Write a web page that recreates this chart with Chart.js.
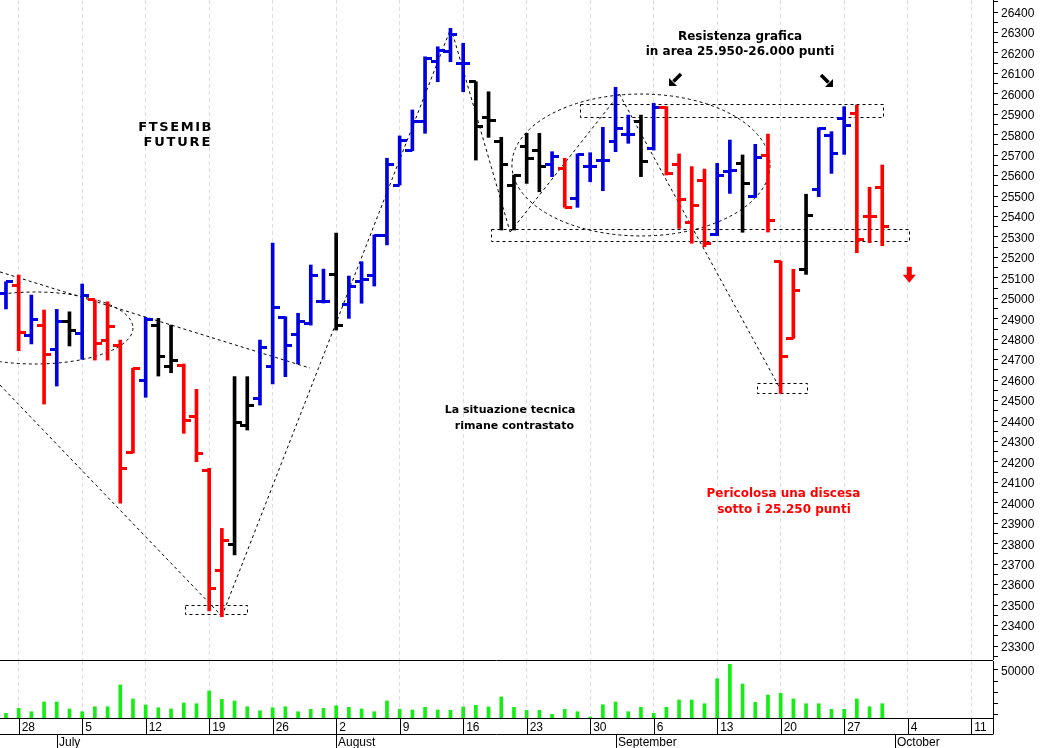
<!DOCTYPE html>
<html>
<head>
<meta charset="utf-8">
<title>FTSEMIB Future</title>
<script src="https://cdn.jsdelivr.net/npm/chart.js@4.4.1/dist/chart.umd.min.js"></script>
<style>
  html, body { margin: 0; padding: 0; background: #fff; }
  #wrap { position: relative; width: 1040px; height: 748px; overflow: hidden; }
  #wrap canvas { position: absolute; left: 0; }
  #price { top: 0; }
  #volume { top: 660px; }
</style>
</head>
<body>
<div id="wrap">
  <canvas id="price" width="1040" height="660"></canvas>
  <canvas id="volume" width="1040" height="88"></canvas>
</div>
<script>
// one bar per trading session, 25 Jun 2021 -> 30 Sep 2021 (x value = session index)
const OPEN = [
  25026, 25065, 24816, 24869, 24751, 24889, 24829, 24992, 24796, 24767,
  24248, 24600, 24869, 24669, 24674, 24421, 24160, 23668, 23794, 24376,
  24511, 24666, 24907, 24821, 24878, 24983, 25117, 24972, 25081, 25114,
  25305, 25554, 25725, 25864, 26157, 26206, 26146, 26059, 25885, 25766,
  25554, 25741, 25722, 25652, 25636, 25489, 25644, 25673, 25766, 25799,
  25864, 25733, 25932, 25652, 25372, 25578, 25310, 25619, 25657, 25497,
  25696, 25182, 24804, 25142, 25533, 25794, 25877, 25905, 25399, 25541,
];
const HIGH = [
  25081, 25114, 25016, 24943, 24946, 24934, 25070, 24992, 24983, 24796,
  24658, 24907, 24902, 24869, 24679, 24555, 24169, 23875, 24617, 24617,
  24796, 25270, 24910, 24927, 25163, 25143, 25319, 25109, 25179, 25310,
  25685, 25794, 25921, 26181, 26230, 26320, 26247, 26059, 26010, 25787,
  25603, 25807, 25807, 25717, 25685, 25706, 25712, 25836, 26032, 25896,
  25896, 25954, 25937, 25706, 25644, 25632, 25660, 25774, 25701, 25753,
  25803, 25182, 25142, 25509, 25834, 25815, 25937, 25945, 25543, 25652,
];
const LOW = [
  24948, 24744, 24777, 24483, 24571, 24767, 24702, 24698, 24698, 23999,
  24244, 24516, 24620, 24636, 24340, 24201, 23472, 23443, 23745, 24356,
  24478, 24581, 24617, 24679, 24869, 24977, 24845, 24902, 24976, 25060,
  25261, 25554, 25722, 25807, 26059, 26157, 26010, 25676, 25787, 25334,
  25334, 25562, 25521, 25595, 25445, 25445, 25570, 25526, 25717, 25758,
  25595, 25725, 25603, 25342, 25269, 25252, 25306, 25513, 25323, 25494,
  25324, 24535, 24804, 25117, 25497, 25611, 25704, 25223, 25272, 25257,
];
const CLOSE = [
  25081, 24832, 24897, 24726, 24886, 24845, 25016, 24780, 24861, 24170,
  24658, 24897, 24718, 24698, 24401, 24239, 23582, 23818, 24395, 24478,
  24760, 24956, 24767, 24886, 25114, 24983, 24869, 25060, 25093, 25305,
  25652, 25774, 25864, 26174, 26214, 26288, 26146, 25839, 25868, 25652,
  25600, 25685, 25647, 25692, 25445, 25701, 25644, 25673, 25831, 25799,
  25671, 25932, 25608, 25481, 25456, 25269, 25603, 25627, 25562, 25689,
  25381, 24718, 25037, 25407, 25831, 25709, 25847, 25289, 25399, 25350,
];
// bar colour code of the original: u = blue, d = red, n = black
const SIGNAL = [
  'u', 'd', 'u', 'd', 'u', 'n', 'u', 'd', 'd', 'd',
  'd', 'u', 'n', 'n', 'd', 'd', 'd', 'd', 'n', 'n',
  'u', 'u', 'u', 'u', 'u', 'u', 'n', 'u', 'u', 'u',
  'u', 'u', 'u', 'u', 'u', 'u', 'u', 'n', 'n', 'n',
  'n', 'n', 'n', 'u', 'd', 'u', 'u', 'u', 'u', 'u',
  'n', 'u', 'd', 'd', 'd', 'd', 'u', 'u', 'n', 'u',
  'd', 'd', 'd', 'n', 'u', 'u', 'u', 'd', 'd', 'd',
];
const VOLUME = [
  11000, 15500, 12400, 21200, 21200, 14900, 12400, 16900, 16900, 36500,
  23900, 18500, 16000, 14900, 20300, 19600, 31100, 23600, 22100, 16900,
  13300, 16000, 16900, 12400, 14600, 15500, 17800, 16400, 14900, 12400,
  22100, 14600, 14000, 16400, 14000, 13700, 16700, 18200, 16700, 25700,
  16400, 13700, 13700, 10100, 14600, 12400, 7650, 18700, 21200, 12400,
  16400, 11000, 16400, 23000, 23000, 19600, 42200, 55100, 37400, 20900,
  27500, 29000, 23900, 19600, 19600, 14600, 14600, 23900, 16900, 19600,
];

const WEEK_TICKS = [1, 6, 11, 16, 21, 26, 31, 36, 41, 46, 51, 56, 61, 66, 71, 76];
const WEEK_LABELS = ['28', '5', '12', '19', '26', '2', '9', '16', '23', '30', '6', '13', '20', '27', '4', '11'];
const MONTH_TICKS = [4, 26, 48, 70];
const MONTH_LABELS = ['July', 'August', 'September', 'October'];

// drawings on the price panel, in data units (session index, points)
const TREND_LINES = [
  [-0.47, 24576, 17, 23446],
  [17, 23446, 35.04, 26322],
  [35.04, 26322, 39.7, 25324],
  [39.7, 25324, 48.3, 25999],
  [48.3, 25999, 61.1, 24542],
  [-0.47, 25129, 23.94, 24659],
];
const BOXES = [
  [14.1, 23500, 18.98, 23456],
  [45.2, 25950, 69.06, 25887],
  [38.19, 25339, 71.1, 25280],
  [59.13, 24586, 63.07, 24537],
];
// centre x, centre y, radius x, radius y
const ELLIPSES = [
  [2.28, 24855, 7.72, 176],
  [50.0, 25652, 10.16, 347],
];
// text, x, y, colour, font size, letter spacing
const NOTES = [
  ['FTSEMIB', 13.3, 25835, '#000', 13, 1.6],
  ['FUTURE', 13.46, 25759, '#000', 13, 1.8],
  ['Resistenza grafica', 57.8, 26278, '#000', 12, 0],
  ['in area 25.950-26.000 punti', 57.8, 26204, '#000', 12, 0],
  ['La situazione tecnica', 39.7, 24454, '#000', 11, 0],
  ['rimane contrastato', 40.04, 24376, '#000', 11, 0],
  ['Pericolosa una discesa', 61.22, 24043, '#ff0000', 12, 0],
  ['sotto i 25.250 punti', 61.26, 23965, '#ff0000', 12, 0],
];
const ARROWS = [
  ['sw', 52.72, 26070, '#000'],
  ['se', 64.61, 26065, '#000'],
  ['down', 71.13, 25115, '#ff0000'],
];

const X_MIN = -0.47;
const X_MAX = 77.72;
const PRICE_MIN = 23231.6;
const PRICE_MAX = 26458.7;
const VOL_MIN = 6757;
const VOL_MAX = 58108;
const AXIS_WIDTH = 47;

const COLORS = { u: '#0000e0', d: '#ff0000', n: '#000000' };
const GRID_COLOR = '#dcdce8';
const FONT = '"Liberation Sans", Arial, sans-serif';

Chart.defaults.font.family = FONT;
Chart.defaults.font.size = 12;
Chart.defaults.color = '#000';

// small horizontal tick drawn left (open) or right (close) of the bar
function tickImage(color, side) {
  const c = document.createElement('canvas');
  c.width = 14;
  c.height = 3;
  const g = c.getContext('2d');
  g.fillStyle = color;
  g.fillRect(side === 'open' ? 0 : 7, 0, 7, 3);
  return c;
}

const TICK_IMAGES = {};
for (const key of Object.keys(COLORS)) {
  TICK_IMAGES[key] = { open: tickImage(COLORS[key], 'open'), close: tickImage(COLORS[key], 'close') };
}

function noPadding(scale) {
  scale.paddingTop = 0;
  scale.paddingBottom = 0;
  scale.paddingLeft = 0;
  scale.paddingRight = 0;
}

function weekTicks(scale) {
  scale.ticks = WEEK_TICKS.map((value) => ({ value }));
}

const drawings = {
  id: 'drawings',
  beforeDatasetsDraw(chart) {
    const { ctx, chartArea, scales: { x, y } } = chart;
    ctx.save();
    ctx.beginPath();
    ctx.rect(chartArea.left, chartArea.top, chartArea.width, chartArea.height);
    ctx.clip();
    ctx.strokeStyle = '#000';
    ctx.lineWidth = 1;
    ctx.setLineDash([3, 3]);

    for (const [x1, p1, x2, p2] of TREND_LINES) {
      ctx.beginPath();
      ctx.moveTo(x.getPixelForValue(x1), y.getPixelForValue(p1));
      ctx.lineTo(x.getPixelForValue(x2), y.getPixelForValue(p2));
      ctx.stroke();
    }

    for (const [x1, p1, x2, p2] of BOXES) {
      const left = Math.round(x.getPixelForValue(x1)) + 0.5;
      const top = Math.round(y.getPixelForValue(p1)) + 0.5;
      const right = Math.round(x.getPixelForValue(x2)) + 0.5;
      const bottom = Math.round(y.getPixelForValue(p2)) + 0.5;
      ctx.strokeRect(left, top, right - left, bottom - top);
    }

    for (const [cx, cp, rx, rp] of ELLIPSES) {
      const px = x.getPixelForValue(cx);
      const py = y.getPixelForValue(cp);
      ctx.beginPath();
      ctx.ellipse(px, py, x.getPixelForValue(cx + rx) - px, py - y.getPixelForValue(cp + rp), 0, 0, Math.PI * 2);
      ctx.stroke();
    }
    ctx.restore();
  },
  afterDatasetsDraw(chart) {
    const { ctx, scales: { x, y } } = chart;
    ctx.save();
    ctx.textAlign = 'center';
    ctx.textBaseline = 'middle';
    for (const [text, tx, tp, color, size, spacing] of NOTES) {
      ctx.font = `bold ${size}px "DejaVu Sans", Verdana, sans-serif`;
      ctx.letterSpacing = `${spacing}px`;
      ctx.fillStyle = color;
      ctx.fillText(text, x.getPixelForValue(tx) + spacing / 2, y.getPixelForValue(tp));
    }
    ctx.letterSpacing = '0px';

    for (const [kind, ax, ap, color] of ARROWS) {
      const px = x.getPixelForValue(ax);
      const py = y.getPixelForValue(ap);
      ctx.fillStyle = color;
      ctx.strokeStyle = color;
      ctx.beginPath();
      if (kind === 'down') {
        ctx.fillRect(px - 2.5, py - 8, 5, 8.5);
        ctx.moveTo(px - 6.5, py);
        ctx.lineTo(px + 6.5, py);
        ctx.lineTo(px, py + 8);
        ctx.closePath();
        ctx.fill();
      } else {
        const d = kind === 'sw' ? -1 : 1;
        ctx.lineWidth = 3.5;
        ctx.moveTo(px - d * 5.5, py - 5.5);
        ctx.lineTo(px + d * 2, py + 2);
        ctx.stroke();
        ctx.beginPath();
        ctx.moveTo(px + d * 6.5, py + 6.5);
        ctx.lineTo(px + d * 6.5, py - 1.5);
        ctx.lineTo(px - d * 1.5, py + 6.5);
        ctx.closePath();
        ctx.fill();
      }
    }
    ctx.restore();
  },
};

// panel separator, day row / month row of the time axis
const timeRows = {
  id: 'timeRows',
  afterDraw(chart) {
    const { ctx, chartArea, scales: { x } } = chart;
    const top = chartArea.bottom;
    const mid = top + 16.5;
    const bottom = chart.height;
    ctx.save();
    ctx.strokeStyle = '#000';
    ctx.lineWidth = 1;
    ctx.beginPath();
    ctx.moveTo(chartArea.left, 0.5);
    ctx.lineTo(chartArea.right, 0.5);
    ctx.moveTo(chartArea.left, mid);
    ctx.lineTo(chartArea.right, mid);
    for (const v of WEEK_TICKS) {
      const px = Math.round(x.getPixelForValue(v)) + 0.5;
      ctx.moveTo(px, top);
      ctx.lineTo(px, mid);
    }
    for (const v of MONTH_TICKS) {
      const px = Math.round(x.getPixelForValue(v)) + 0.5;
      ctx.moveTo(px, mid);
      ctx.lineTo(px, bottom);
    }
    ctx.moveTo(chartArea.right + 0.5, top);
    ctx.lineTo(chartArea.right + 0.5, mid);
    ctx.stroke();

    ctx.font = `12px ${FONT}`;
    ctx.fillStyle = '#000';
    ctx.textAlign = 'left';
    ctx.textBaseline = 'middle';
    MONTH_LABELS.forEach((label, i) => {
      ctx.fillText(label, Math.round(x.getPixelForValue(MONTH_TICKS[i])) + 2, (mid + bottom) / 2 + 1);
    });
    ctx.restore();
  },
};

new Chart(document.getElementById('price'), {
  type: 'bar',
  data: {
    datasets: [
      {
        label: 'open',
        type: 'scatter',
        data: OPEN.map((v, i) => ({ x: i, y: v })),
        pointStyle: (ctx) => TICK_IMAGES[SIGNAL[ctx.dataIndex]].open,
        pointRadius: 2,
        pointHoverRadius: 2,
        order: 0,
      },
      {
        label: 'close',
        type: 'scatter',
        data: CLOSE.map((v, i) => ({ x: i, y: v })),
        pointStyle: (ctx) => TICK_IMAGES[SIGNAL[ctx.dataIndex]].close,
        pointRadius: 2,
        pointHoverRadius: 2,
        order: 0,
      },
      {
        label: 'range',
        data: HIGH.map((h, i) => ({ x: i, y: [LOW[i], h] })),
        backgroundColor: SIGNAL.map((s) => COLORS[s]),
        barThickness: 3,
        grouped: false,
        order: 1,
      },
    ],
  },
  options: {
    responsive: false,
    animation: false,
    events: [],
    layout: { padding: 0, autoPadding: false },
    plugins: { legend: { display: false }, tooltip: { enabled: false } },
    scales: {
      x: {
        type: 'linear',
        min: X_MIN,
        max: X_MAX,
        offset: false,
        afterBuildTicks: weekTicks,
        ticks: { display: false },
        grid: { color: GRID_COLOR, drawTicks: false, offset: false },
        border: { display: true, color: '#000', width: 1, dash: [4, 3] },
      },
      y: {
        type: 'linear',
        position: 'right',
        min: PRICE_MIN,
        max: PRICE_MAX,
        beginAtZero: false,
        afterBuildTicks: (scale) => {
          const ticks = [];
          for (let v = 23250; v <= 26450; v += 50) ticks.push({ value: v });
          scale.ticks = ticks;
        },
        afterFit: (scale) => {
          scale.width = AXIS_WIDTH;
          noPadding(scale);
        },
        ticks: {
          autoSkip: false,
          padding: 3,
          labelOffset: 1.5,
          callback: (value) => (value % 100 === 0 ? String(value) : ''),
        },
        grid: { drawOnChartArea: false, tickLength: 5, tickColor: '#000' },
        border: { display: true, color: '#000', width: 1 },
      },
    },
  },
  plugins: [drawings],
});

new Chart(document.getElementById('volume'), {
  type: 'bar',
  data: {
    datasets: [
      {
        label: 'volume',
        data: VOLUME.map((v, i) => ({ x: i, y: v })),
        backgroundColor: '#14ee14',
        barThickness: 3,
        grouped: false,
      },
    ],
  },
  options: {
    responsive: false,
    animation: false,
    events: [],
    layout: { padding: { top: 1 }, autoPadding: false },
    plugins: { legend: { display: false }, tooltip: { enabled: false } },
    scales: {
      x: {
        type: 'linear',
        min: X_MIN,
        max: X_MAX,
        offset: false,
        afterBuildTicks: weekTicks,
        afterFit: (scale) => {
          scale.height = 30;
          noPadding(scale);
        },
        ticks: {
          autoSkip: false,
          maxRotation: 0,
          align: 'start',
          labelOffset: 3,
          padding: 2,
          callback: (value) => WEEK_LABELS[WEEK_TICKS.indexOf(value)],
        },
        grid: { color: GRID_COLOR, drawTicks: false, offset: false },
        border: { display: true, color: '#000', width: 1, dash: [4, 3] },
      },
      y: {
        type: 'linear',
        position: 'right',
        min: VOL_MIN,
        max: VOL_MAX,
        beginAtZero: false,
        afterBuildTicks: (scale) => {
          scale.ticks = [10000, 20000, 30000, 40000, 50000].map((value) => ({ value }));
        },
        afterFit: (scale) => {
          scale.width = AXIS_WIDTH;
          noPadding(scale);
        },
        ticks: {
          autoSkip: false,
          padding: 3,
          labelOffset: 1.5,
          callback: (value) => (value === 50000 ? '50000' : ''),
        },
        grid: { drawOnChartArea: false, tickLength: 5, tickColor: '#000' },
        border: { display: true, color: '#000', width: 1 },
      },
    },
  },
  plugins: [timeRows],
});
</script>
</body>
</html>
